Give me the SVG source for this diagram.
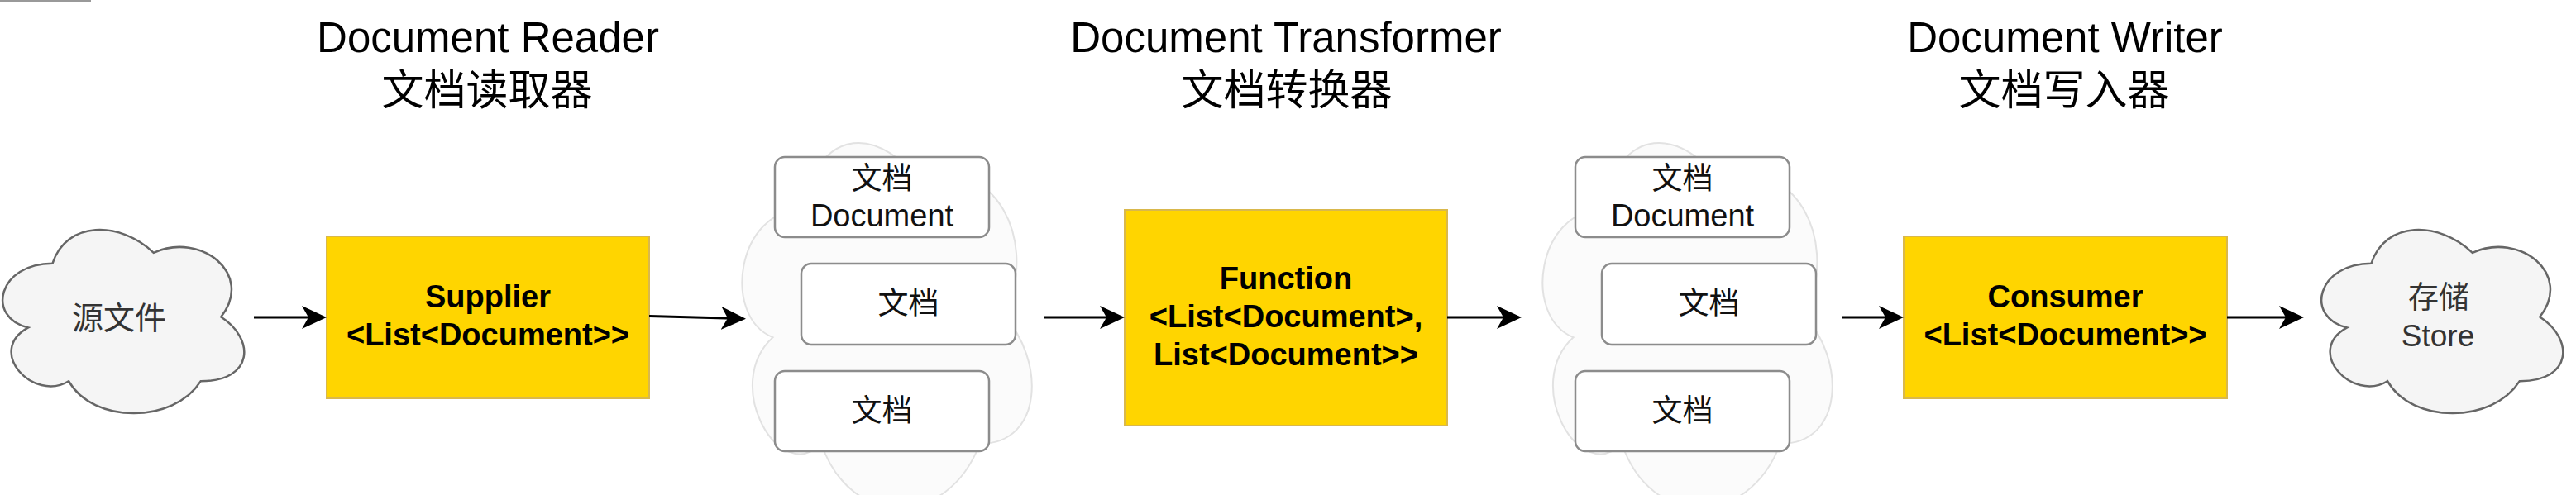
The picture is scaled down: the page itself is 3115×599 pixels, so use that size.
<svg xmlns="http://www.w3.org/2000/svg" width="3115" height="599" viewBox="0 0 3115 599">
<style>
.title{font-family:"Liberation Sans","Noto Sans CJK SC",Arial,sans-serif;font-size:51px;fill:#000;text-anchor:middle}
.titlecn{font-family:"Noto Sans CJK SC","Liberation Sans",sans-serif;font-size:51px;fill:#000;text-anchor:middle}
.ybox{fill:#ffd500;stroke:#d9b84c;stroke-width:2}
.ylabel{font-family:"Liberation Sans",Arial,sans-serif;font-weight:bold;font-size:38px;fill:#000;text-anchor:middle}
.cloud{fill:#f5f5f5;stroke:#666;stroke-width:2.5}
.faint{fill:#fbfbfb;stroke:#e2e2e2;stroke-width:2}
.cloudcn{font-family:"Noto Sans CJK SC","Liberation Sans",sans-serif;font-size:37px;fill:#333;text-anchor:middle}
.cloudtx{font-family:"Liberation Sans",Arial,sans-serif;font-size:38px;fill:#333;text-anchor:middle}
.doc{fill:#fff;stroke:#8c8c8c;stroke-width:2.5}
.doccn{font-family:"Noto Sans CJK SC","Liberation Sans",sans-serif;font-size:37px;fill:#111;text-anchor:middle}
.doctx{font-family:"Liberation Sans",Arial,sans-serif;font-size:38px;fill:#111;text-anchor:middle}
.conn{stroke:#000;stroke-width:3;fill:none;marker-end:url(#arrow)}
</style>
<defs>
<marker id="arrow" markerUnits="userSpaceOnUse" markerWidth="30" markerHeight="28" viewBox="0 0 30 28" refX="24" refY="14" orient="auto">
<path d="M0,0 L30,14 L0,28 L8,14 Z" fill="#000"/>
</marker>
<path id="cloudShape" d="M63.5,318.75 C-1.7,318.75 -18,383.5 34.16,396.45 C-18,424.94 40.68,487.1 83.06,461.2 C112.4,513 210.2,513 242.8,461.2 C308,461.2 308,409.4 267.25,383.5 C308,331.7 242.8,279.9 185.75,305.8 C145,266.95 79.8,266.95 63.5,318.75 Z"/>
<path id="faintShape" d="M969.75,253.75 C891.55,253.75 872,382.5 934.56,408.25 C872,464.9 942.38,588.5 993.21,537 C1028.4,640 1145.7,640 1184.8,537 C1263,537 1263,434 1214.1,382.5 C1263,279.5 1184.8,176.5 1116.4,228 C1067.5,150.75 989.3,150.75 969.75,253.75 Z"/>
</defs>
<rect width="3115" height="599" fill="#fff"/>
<line x1="0" y1="1" x2="110" y2="1" stroke="#999" stroke-width="2"/>

<g id="title-reader">
<text class="title" x="590" y="63">Document Reader</text>
<text class="titlecn" x="589" y="127">文档读取器</text>
</g>
<g id="title-transformer">
<text class="title" x="1555" y="63">Document Transformer</text>
<text class="titlecn" x="1556" y="127">文档转换器</text>
</g>
<g id="title-writer">
<text class="title" x="2497" y="63">Document Writer</text>
<text class="titlecn" x="2496" y="127">文档写入器</text>
</g>

<g id="source">
<use href="#cloudShape" class="cloud"/>
<text class="cloudcn" x="144" y="398" style="font-size:38px">源文件</text>
</g>

<g id="supplier">
<rect class="ybox" x="395" y="286" width="390" height="196"/>
<text class="ylabel" x="590" y="372">Supplier</text>
<text class="ylabel" x="590" y="418">&lt;List&lt;Document&gt;&gt;</text>
</g>

<g id="docs1">
<use href="#faintShape" class="faint"/>
<g id="docs1-a">
<rect class="doc" x="937" y="190" width="259" height="97" rx="12"/>
<text class="doccn" x="1066.5" y="229">文档</text>
<text class="doctx" x="1066.5" y="274">Document</text>
</g>
<g id="docs1-b">
<rect class="doc" x="969" y="319" width="259" height="98" rx="12"/>
<text class="doccn" x="1098.5" y="380">文档</text>
</g>
<g id="docs1-c">
<rect class="doc" x="937" y="449" width="259" height="97" rx="12"/>
<text class="doccn" x="1066.5" y="510">文档</text>
</g>
</g>

<g id="function">
<rect class="ybox" x="1360" y="254" width="390" height="261"/>
<text class="ylabel" x="1555" y="350">Function</text>
<text class="ylabel" x="1555" y="396">&lt;List&lt;Document&gt;,</text>
<text class="ylabel" x="1555" y="442">List&lt;Document&gt;&gt;</text>
</g>

<g id="docs2" transform="translate(968,0)">
<use href="#faintShape" class="faint"/>
<g id="docs2-a">
<rect class="doc" x="937" y="190" width="259" height="97" rx="12"/>
<text class="doccn" x="1066.5" y="229">文档</text>
<text class="doctx" x="1066.5" y="274">Document</text>
</g>
<g id="docs2-b">
<rect class="doc" x="969" y="319" width="259" height="98" rx="12"/>
<text class="doccn" x="1098.5" y="380">文档</text>
</g>
<g id="docs2-c">
<rect class="doc" x="937" y="449" width="259" height="97" rx="12"/>
<text class="doccn" x="1066.5" y="510">文档</text>
</g>
</g>

<g id="consumer">
<rect class="ybox" x="2302" y="286" width="391" height="196"/>
<text class="ylabel" x="2497.5" y="372">Consumer</text>
<text class="ylabel" x="2497.5" y="418">&lt;List&lt;Document&gt;&gt;</text>
</g>

<g id="store">
<use href="#cloudShape" class="cloud" transform="translate(2804,0)"/>
<text class="cloudcn" x="2949" y="373">存储</text>
<text class="cloudtx" x="2948" y="419" style="font-size:37px">Store</text>
</g>

<g id="connectors">
<line class="conn" x1="307" y1="384" x2="389" y2="384"/>
<line class="conn" x1="785" y1="382.5" x2="896" y2="385.5"/>
<line class="conn" x1="1262" y1="384" x2="1354" y2="384"/>
<line class="conn" x1="1750" y1="384" x2="1834" y2="384"/>
<line class="conn" x1="2228" y1="384" x2="2296" y2="384"/>
<line class="conn" x1="2693" y1="384" x2="2780" y2="384"/>
</g>
</svg>
